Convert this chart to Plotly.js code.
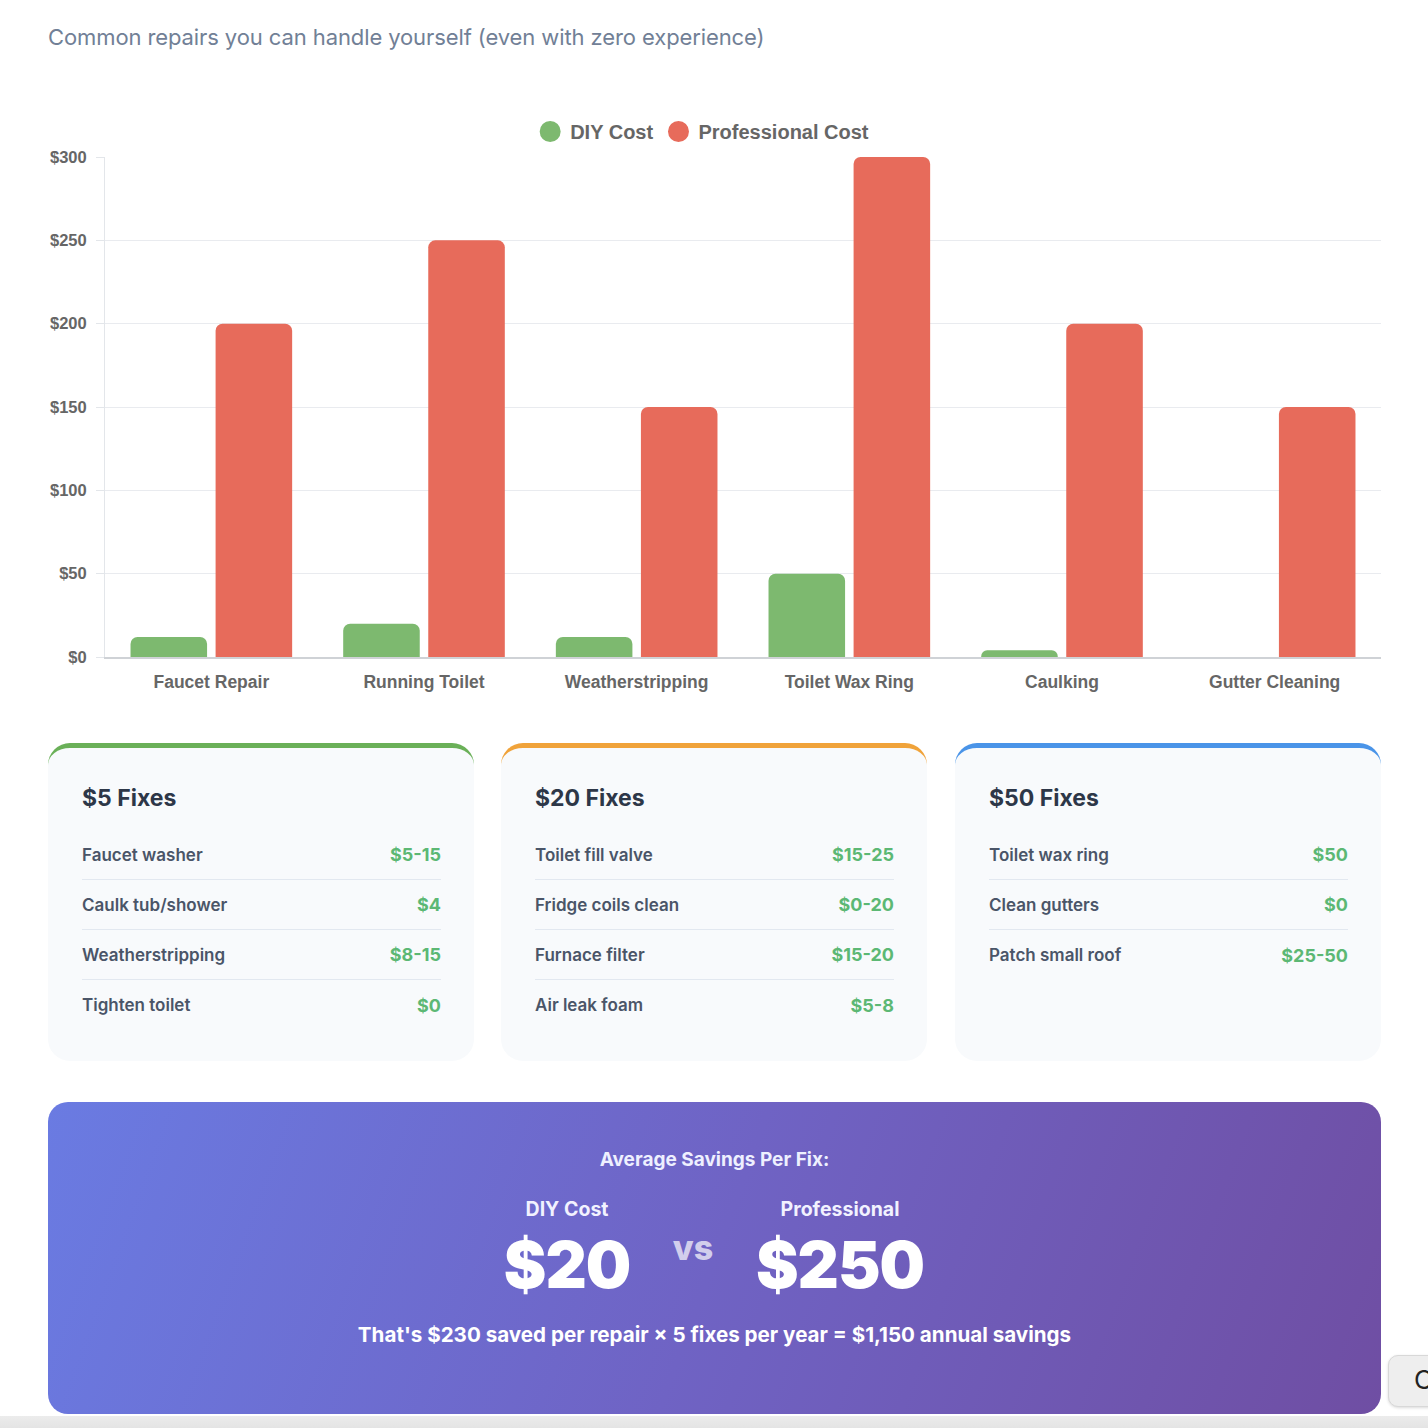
<!DOCTYPE html>
<html>
<head>
<meta charset="utf-8">
<script src="https://cdn.plot.ly/plotly-3.0.1.min.js"></script>
<style>
  html, body { margin: 0; padding: 0; background: #ffffff; }
  body { width: 1428px; height: 1428px; overflow: hidden; position: relative; font-family: Inter, "Noto Sans", sans-serif; }
  #title { position: absolute; left: 48px; top: 24px; font-size: 22px; color: #718096; font-weight: 400; letter-spacing: -0.1px; }
  #chart { position: absolute; left: 48px; top: 90px; width: 1333px; height: 620px; }
  .card { position: absolute; top: 743px; width: 426px; height: 318px; background: #f8fafc; border-radius: 22px; box-sizing: border-box; padding: 0 33px 0 34px; border-top: 5px solid; }
  .card h3 { margin: 0; position: absolute; top: 36px; left: 34px; font-size: 23px; font-weight: 700; color: #2d3748; }
  .rows { position: absolute; top: 82px; left: 34px; right: 33px; }
  .row { display: flex; justify-content: space-between; align-items: center; height: 50px; border-bottom: 1.5px solid #e2e8f0; font-size: 17px; font-weight: 600; color: #4a5568; box-sizing: border-box; }
  .row:last-child { border-bottom: none; }
  .row .v { color: #5cb874; font-weight: 700; font-size: 18px; }
  #banner { position: absolute; left: 48px; top: 1102px; width: 1333px; height: 312px; border-radius: 20px; background: linear-gradient(110deg, #6a7be2 0%, #6f63c4 50%, #6f4ea3 100%); color: #fff; text-align: center; }
  #banner .h { position: absolute; top: 46px; left: 0; right: 0; font-size: 19px; font-weight: 700; color: #eef0ff; }
  .col { position: absolute; top: 95px; width: 240px; text-align: center; }
  .col .lab { font-size: 19.5px; font-weight: 700; color: #f2f2ff; }
  .col .big { font-size: 64px; font-weight: 900; margin-top: 9px; line-height: 1.1; letter-spacing: -1px; }
  #vs { position: absolute; left: 620px; top: 125px; width: 50px; font-size: 34px; font-weight: 800; color: rgba(255,255,255,0.7); }
  #banner .foot { position: absolute; top: 220px; left: 0; right: 0; font-size: 20.6px; font-weight: 700; }
  #btn { position: absolute; left: 1388px; top: 1355px; width: 90px; height: 52px; background: #eeeeee; border: 1px solid #d8d8d8; border-radius: 10px; box-sizing: border-box; font-size: 26px; color: #222; padding: 8px 0 0 25px; box-shadow: 0 1px 3px rgba(0,0,0,0.15); }
  #bottom { position: absolute; left: 0; top: 1416px; width: 1428px; height: 12px; background: linear-gradient(#ececec, #e4e4e4); }
</style>
</head>
<body>
<div id="title">Common repairs you can handle yourself (even with zero experience)</div>
<div id="chart"></div>

<div class="card" style="left:48px; border-top-color:#6ab058;">
  <h3>$5 Fixes</h3>
  <div class="rows" id="rows1"></div>
</div>
<div class="card" style="left:501px; border-top-color:#f0a33a;">
  <h3>$20 Fixes</h3>
  <div class="rows" id="rows2"></div>
</div>
<div class="card" style="left:955px; border-top-color:#4a94e8;">
  <h3>$50 Fixes</h3>
  <div class="rows" id="rows3"></div>
</div>

<div id="banner">
  <div class="h">Average Savings Per Fix:</div>
  <div class="col" style="left:399px;"><div class="lab">DIY Cost</div><div class="big" id="diyAvg"></div></div>
  <div id="vs">vs</div>
  <div class="col" style="left:672px;"><div class="lab">Professional</div><div class="big" id="proAvg"></div></div>
  <div class="foot" id="foot"></div>
</div>
<div id="btn">Copy</div>
<div id="bottom"></div>

<script>
// ---- Chart data ----
const categories = ["Faucet Repair", "Running Toilet", "Weatherstripping", "Toilet Wax Ring", "Caulking", "Gutter Cleaning"];
const diyCost = [12, 20, 12, 50, 4, 0];
const professionalCost = [200, 250, 150, 300, 200, 150];
const yTickValues = [0, 50, 100, 150, 200, 250, 300];
const yTickLabels = ["$0", "$50", "$100", "$150", "$200", "$250", "$300"];

// ---- Card data ----
const fiveNames = ["Faucet washer", "Caulk tub/shower", "Weatherstripping", "Tighten toilet"];
const fivePrices = ["$5-15", "$4", "$8-15", "$0"];
const twentyNames = ["Toilet fill valve", "Fridge coils clean", "Furnace filter", "Air leak foam"];
const twentyPrices = ["$15-25", "$0-20", "$15-20", "$5-8"];
const fiftyNames = ["Toilet wax ring", "Clean gutters", "Patch small roof"];
const fiftyPrices = ["$50", "$0", "$25-50"];

// ---- Summary data ----
const avgDiy = "$20";
const avgPro = "$250";
const summaryText = "That's $230 saved per repair × 5 fixes per year = $1,150 annual savings";

const green = "rgba(125,185,111,1)";
const red = "rgba(231,107,91,1)";

function fillRows(id, names, prices) {
  const el = document.getElementById(id);
  el.innerHTML = names.map((n, i) => '<div class="row"><span>' + n + '</span><span class="v">' + prices[i] + '</span></div>').join("");
}
fillRows("rows1", fiveNames, fivePrices);
fillRows("rows2", twentyNames, twentyPrices);
fillRows("rows3", fiftyNames, fiftyPrices);
document.getElementById("diyAvg").textContent = avgDiy;
document.getElementById("proAvg").textContent = avgPro;
document.getElementById("foot").textContent = summaryText;

const traces = [
  { type: "bar", name: "DIY Cost", x: categories, y: diyCost, marker: { color: green, cornerradius: 7 }, showlegend: false, hoverinfo: "none" },
  { type: "bar", name: "Professional Cost", x: categories, y: professionalCost, marker: { color: red, cornerradius: 7 }, showlegend: false, hoverinfo: "none" },
  { type: "scatter", mode: "markers", name: "DIY Cost", x: [categories[0]], y: [null], marker: { color: green, size: 16, symbol: "circle", line: { color: green, width: 5 } }, showlegend: true, hoverinfo: "none" },
  { type: "scatter", mode: "markers", name: "Professional Cost", x: [categories[0]], y: [null], marker: { color: red, size: 16, symbol: "circle", line: { color: red, width: 5 } }, showlegend: true, hoverinfo: "none" }
];

const layout = {
  width: 1333, height: 620,
  margin: { l: 57, r: 0, t: 67, b: 53 },
  paper_bgcolor: "rgba(0,0,0,0)", plot_bgcolor: "rgba(0,0,0,0)",
  barmode: "group", bargap: 0.2, bargroupgap: 0.1,
  font: { family: "Liberation Sans, Arial, sans-serif", color: "#666666" },
  showlegend: true,
  legend: { orientation: "h", x: 0.468, xanchor: "center", y: 1.012, yanchor: "bottom", font: { size: 20, color: "#666666", family: "Liberation Sans, Arial, sans-serif", weight: "bold" }, itemwidth: 30, tracegroupgap: 0 },
  xaxis: {
    type: "category", showgrid: false, showline: true, linecolor: "#cfd2d6", linewidth: 1.5,
    ticks: "", ticklabelstandoff: 8, tickfont: { size: 17.5, color: "#666666", weight: "bold" }, fixedrange: true
  },
  yaxis: {
    range: [0, 300], tickvals: yTickValues, ticktext: yTickLabels,
    showgrid: true, gridcolor: "#e9ebef", gridwidth: 1,
    showline: true, linecolor: "#e3e6ea", zeroline: false,
    ticks: "outside", ticklen: 8, tickcolor: "#e3e6ea", ticklabelstandoff: 6,
    tickfont: { size: 16.5, color: "#666666", weight: "bold" }, fixedrange: true
  }
};

Plotly.newPlot("chart", traces, layout, { displayModeBar: false, staticPlot: true });
</script>
</body>
</html>
